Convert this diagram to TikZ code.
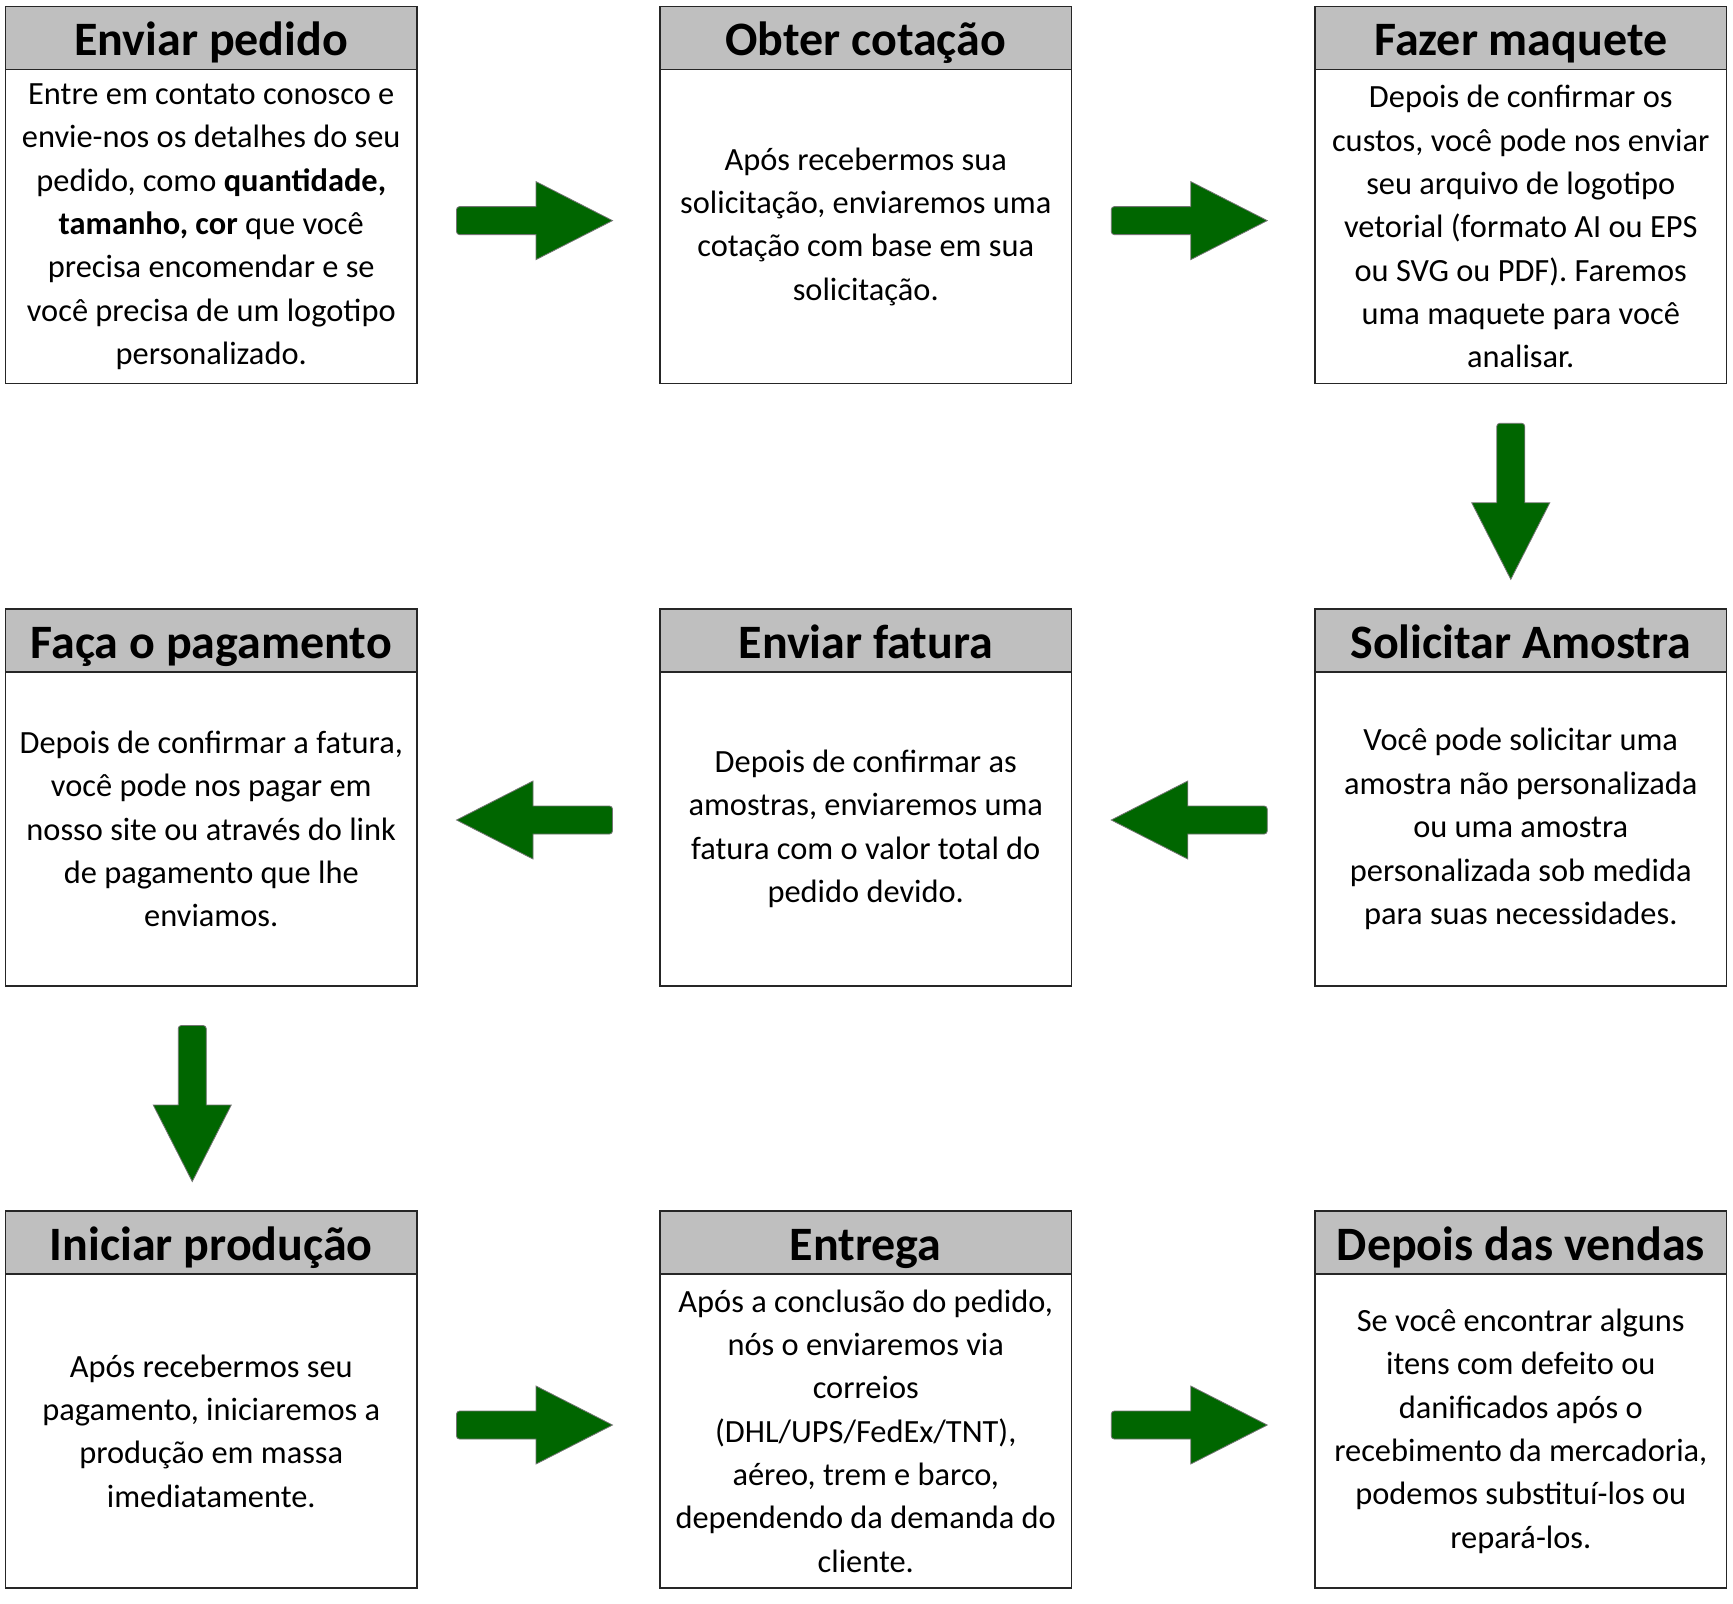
\documentclass[tikz,border=0pt]{standalone}
\usepackage{fontspec}
\setmainfont{Carlito}
\usetikzlibrary{positioning,calc}

\definecolor{headgray}{RGB}{191,191,191}
\definecolor{arrowgreen}{RGB}{0,102,0}

\tikzset{
  titlebox/.style={draw=black!85, line width=0.6pt, fill=headgray, outer sep=0pt, inner sep=0pt,
    minimum width=205.75pt, minimum height=31.5pt, text height=24.6pt, text depth=6.9pt,
    anchor=north west, font=\fontsize{24}{28}\selectfont\bfseries},
  textbox/.style={draw=black!85, line width=0.6pt, outer sep=0pt, inner sep=0pt,
    minimum width=205.75pt, minimum height=157pt, below=0pt of #1, align=center,
    font=\fontsize{16.2}{21.67}\selectfont},
  arrowfill/.style={fill=arrowgreen, draw=black!55, line width=0.4pt},
  pics/blockarrow/.style={code={
    \filldraw[arrowfill] (1.5,39) -- (78,0) -- (1.5,-39) -- (1.5,-14)
      [rounded corners=1.5pt] -- (-78,-14) -- (-78,14) [sharp corners] -- (1.5,14) -- cycle;
  }}
}

\begin{document}
\begin{tikzpicture}[x=0.5pt, y=-0.5pt]
  \useasboundingbox (0,0) rectangle (1733,1603);

  % first row
  \node[titlebox] (pedido) at (5.5,6.6) {Enviar pedido};
  \node[textbox=pedido] (pedidotxt) {Entre em contato conosco e\\envie-nos os detalhes do seu\\pedido, como \textbf{quantidade,}\\\textbf{tamanho, cor} que você\\precisa encomendar e se\\você precisa de um logotipo\\personalizado.};
  \node[titlebox] (cotacao) at (660,6.6) {Obter cotação};
  \node[textbox=cotacao] (cotacaotxt) {Após recebermos sua\\solicitação, enviaremos uma\\cotação com base em sua\\solicitação.};
  \node[titlebox] (maquete) at (1315,6.6) {Fazer maquete};
  \node[textbox=maquete] (maquetetxt) {Depois de confirmar os\\custos, você pode nos enviar\\seu arquivo de logotipo\\vetorial (formato AI ou EPS\\ou SVG ou PDF). Faremos\\uma maquete para você\\analisar.};

  % second row
  \node[titlebox] (pagamento) at (5.5,609) {Faça o pagamento};
  \node[textbox=pagamento] (pagamentotxt) {Depois de confirmar a fatura,\\você pode nos pagar em\\nosso site ou através do link\\de pagamento que lhe\\enviamos.};
  \node[titlebox] (fatura) at (660,609) {Enviar fatura};
  \node[textbox=fatura] (faturatxt) {Depois de confirmar as\\amostras, enviaremos uma\\fatura com o valor total do\\pedido devido.};
  \node[titlebox] (amostra) at (1315,609) {Solicitar Amostra};
  \node[textbox=amostra] (amostratxt) {Você pode solicitar uma\\amostra não personalizada\\ou uma amostra\\personalizada sob medida\\para suas necessidades.};

  % third row
  \node[titlebox] (producao) at (5.5,1211) {Iniciar produção};
  \node[textbox=producao] (producaotxt) {Após recebermos seu\\pagamento, iniciaremos a\\produção em massa\\imediatamente.};
  \node[titlebox] (entrega) at (660,1211) {Entrega};
  \node[textbox=entrega] (entregatxt) {Após a conclusão do pedido,\\nós o enviaremos via\\correios\\(DHL/UPS/FedEx/TNT),\\aéreo, trem e barco,\\dependendo da demanda do\\cliente.};
  \node[titlebox] (vendas) at (1315,1211) {Depois das vendas};
  \node[textbox=vendas] (vendastxt) {Se você encontrar alguns\\itens com defeito ou\\danificados após o\\recebimento da mercadoria,\\podemos substituí-los ou\\repará-los.};

  % arrows
  \pic at ($(pedidotxt.east)!0.5!(cotacaotxt.west)+(-4,-6)$) {blockarrow};
  \pic at ($(cotacaotxt.east)!0.5!(maquetetxt.west)+(-4,-6)$) {blockarrow};
  \pic[rotate=-90] at ($(maquetetxt.south)!0.5!(amostra.north)+(-10,5)$) {blockarrow};
  \pic[rotate=180] at ($(faturatxt.east)!0.5!(amostratxt.west)+(-4,-9)$) {blockarrow};
  \pic[rotate=180] at ($(pagamentotxt.east)!0.5!(faturatxt.west)+(-4,-9)$) {blockarrow};
  \pic[rotate=-90] at ($(pagamentotxt.south)!0.5!(producao.north)+(-19,5)$) {blockarrow};
  \pic at ($(producaotxt.east)!0.5!(entregatxt.west)+(-4,-6)$) {blockarrow};
  \pic at ($(entregatxt.east)!0.5!(vendastxt.west)+(-4,-6)$) {blockarrow};
\end{tikzpicture}
\end{document}
